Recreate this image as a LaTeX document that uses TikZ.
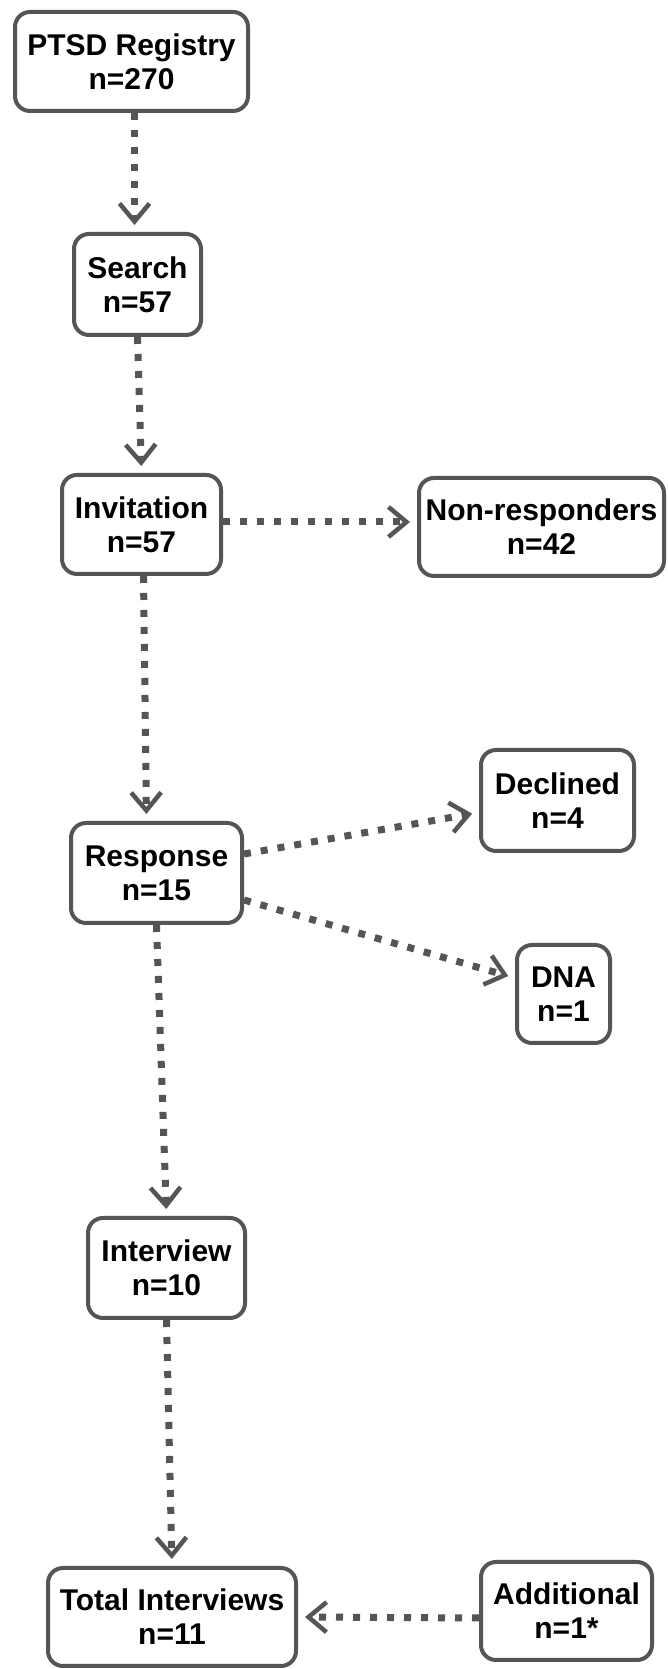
\documentclass[tikz,border=0pt]{standalone}
\usepackage{fontspec}
\setmainfont{Liberation Sans}
\usetikzlibrary{arrows.meta}
\definecolor{edge}{HTML}{555555}
\tikzset{
  box/.style={draw=edge, line width=4pt, rounded corners=15pt, fill=white,
    align=center, inner sep=0pt, text=black,
    font=\fontsize{30}{34}\selectfont\bfseries},
  flow/.style={draw=edge, line width=7pt, dash pattern=on 7pt off 10pt,
    -{Straight Barb[length=18pt,width=30pt,line width=4.5pt]}, shorten >=7pt}
}
\begin{document}
\begin{tikzpicture}[x=1pt,y=1pt]
\fill[white] (0,0) rectangle (668,1669);
\useasboundingbox (0,0) rectangle (668,1669);

% stages of the recruitment flow
\node[box, minimum width=233, minimum height=99] (ptsd) at (131.5,1607.5) {PTSD Registry\\n=270};
\node[box, minimum width=127, minimum height=101] (search) at (137.5,1384.5) {Search\\n=57};
\node[box, minimum width=159, minimum height=99] (invitation) at (141.5,1144.5) {Invitation\\n=57};
\node[box, minimum width=245, minimum height=98] (nonresp) at (541.5,1142) {Non-responders\\n=42};
\node[box, minimum width=171, minimum height=100] (response) at (156.5,796) {Response\\n=15};
\node[box, minimum width=153, minimum height=101] (declined) at (557.5,868.5) {Declined\\n=4};
\node[box, minimum width=93, minimum height=98] (dna) at (563.5,675) {DNA\\n=1};
\node[box, minimum width=157, minimum height=100] (interview) at (166.5,401) {Interview\\n=10};
\node[box, minimum width=248, minimum height=98] (total) at (172,52) {Total Interviews\\n=11};
\node[box, minimum width=171, minimum height=98] (additional) at (566.5,58) {Additional\\n=1*};

% connectors
\draw[flow] ([xshift=3pt]ptsd.south) -- ([xshift=-3pt]search.north);
\draw[flow] (search.south) -- (invitation.north);
\draw[flow] ([xshift=2pt]invitation.south) -- ([xshift=-10pt]response.north);
\draw[flow] ([yshift=2.5pt]invitation.east) -- ([yshift=5pt]nonresp.west);
\draw[flow] ([yshift=19pt]response.east) -- ([yshift=-12pt]declined.west);
\draw[flow] ([yshift=-27pt]response.east) -- ([yshift=16pt]dna.west);
\draw[flow] (response.south) -- (interview.north);
\draw[flow] (interview.south) -- (total.north);
\draw[flow] ([yshift=-7pt]additional.west) -- (total.east);
\end{tikzpicture}
\end{document}
